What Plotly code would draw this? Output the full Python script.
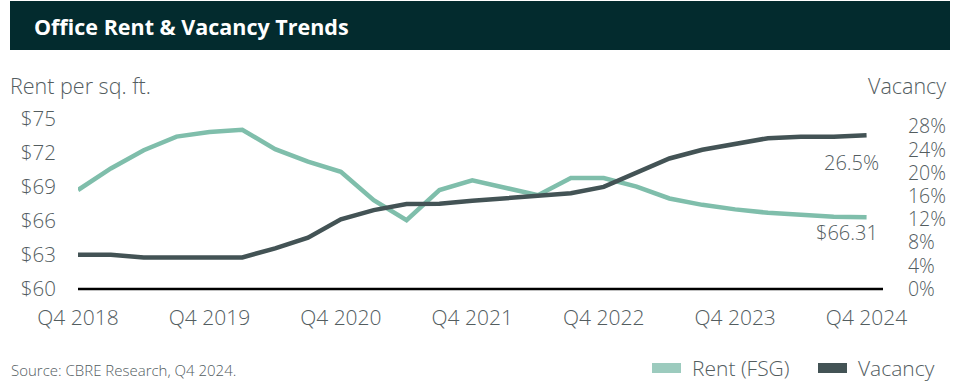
import plotly.graph_objects as go

# Quarterly series, Q4 2018 through Q4 2024
quarters = [
    "Q4 2018", "Q1 2019", "Q2 2019", "Q3 2019", "Q4 2019",
    "Q1 2020", "Q2 2020", "Q3 2020", "Q4 2020",
    "Q1 2021", "Q2 2021", "Q3 2021", "Q4 2021",
    "Q1 2022", "Q2 2022", "Q3 2022", "Q4 2022",
    "Q1 2023", "Q2 2023", "Q3 2023", "Q4 2023",
    "Q1 2024", "Q2 2024", "Q3 2024", "Q4 2024",
]
rent = [
    68.7, 70.6, 72.2, 73.4, 73.8,
    74.0, 72.3, 71.2, 70.3,
    67.8, 66.05, 68.7, 69.56,
    68.9, 68.25, 69.76, 69.76,
    69.0, 67.96, 67.4, 67.0,
    66.7, 66.5, 66.35, 66.31,
]
vacancy = [
    5.9, 5.9, 5.45, 5.45, 5.45,
    5.45, 7.0, 8.85, 12.0,
    13.6, 14.65, 14.7, 15.2,
    15.6, 16.1, 16.5, 17.6,
    19.95, 22.5, 24.0, 25.0,
    26.0, 26.26, 26.26, 26.5,
]
x_ticks = ["Q4 2018", "Q4 2019", "Q4 2020", "Q4 2021", "Q4 2022", "Q4 2023", "Q4 2024"]
rent_ticks = [60, 63, 66, 69, 72, 75]
vacancy_ticks = [0, 4, 8, 12, 16, 20, 24, 28]

RENT_COLOR = "#7FBEAB"
RENT_SWATCH = "#9CCBBE"
VAC_COLOR = "#435355"
TEXT_COLOR = "#535D5F"
BAR_COLOR = "#032B2E"
FONT = "Open Sans"
CLEAR = "rgba(0,0,0,0)"

fig = go.Figure()
fig.add_trace(go.Scatter(
    x=quarters, y=rent, mode="lines", name="Rent (FSG)",
    line=dict(color=RENT_COLOR, width=4.5), yaxis="y", showlegend=False,
))
fig.add_trace(go.Scatter(
    x=quarters, y=vacancy, mode="lines", name="Vacancy",
    line=dict(color=VAC_COLOR, width=4.5), yaxis="y2", showlegend=False,
))

def text_font(size):
    return dict(family=FONT, size=size, color=TEXT_COLOR, weight=300)

# Invisible tick marks push the tick labels away from the plot edges
fig.update_layout(
    width=976, height=384,
    margin=dict(l=78, r=93, t=115, b=95),
    paper_bgcolor="white", plot_bgcolor="white",
    font=dict(family=FONT, color=TEXT_COLOR),
    xaxis=dict(
        type="category", categoryorder="array", categoryarray=quarters,
        range=[0, 24.5], tickmode="array", tickvals=x_ticks, ticktext=x_ticks,
        showgrid=False, zeroline=False, ticks="outside", ticklen=10, tickcolor=CLEAR,
        tickfont=text_font(21), showline=False,
    ),
    yaxis=dict(
        range=[60, 75.3], tickmode="array", tickvals=rent_ticks,
        ticktext=["$%d" % v for v in rent_ticks],
        showgrid=False, zeroline=False, ticks="outside", ticklen=17, tickcolor=CLEAR,
        tickfont=text_font(20.5),
    ),
    yaxis2=dict(
        range=[0, 30], overlaying="y", side="right", tickmode="array",
        tickvals=vacancy_ticks, ticktext=["%d%%" % v for v in vacancy_ticks],
        showgrid=False, zeroline=False, ticks="outside", ticklen=20, tickcolor=CLEAR,
        tickfont=text_font(19.5),
    ),
)

# Baseline along the bottom of the plot area
fig.add_shape(type="line", xref="paper", yref="paper", x0=0, x1=1, y0=0, y1=0,
              line=dict(color="black", width=2.5), layer="below")

# Title bar
fig.add_shape(type="rect", xref="paper", yref="paper",
              x0=(10 - 78) / 805, x1=(950 - 78) / 805,
              y0=1 + (115 - 50) / 174, y1=1 + (115 - 1) / 174,
              line=dict(width=0), fillcolor=BAR_COLOR)
fig.add_annotation(text="<b>Office Rent & Vacancy Trends</b>", xref="paper", yref="paper",
                   x=(32 - 78) / 805, y=1 + (115 - 27) / 174, xanchor="left", yanchor="middle",
                   showarrow=False, font=dict(family=FONT, size=21.5, color="white"))

# Axis titles
fig.add_annotation(text="Rent per sq. ft.", xref="paper", yref="paper",
                   x=(8 - 78) / 805, y=1 + (115 - 86) / 174, xanchor="left", yanchor="middle",
                   showarrow=False, font=text_font(21.5))
fig.add_annotation(text="Vacancy", xref="paper", yref="paper",
                   x=(948 - 78) / 805, y=1 + (115 - 86) / 174, xanchor="right", yanchor="middle",
                   showarrow=False, font=text_font(21.5))

# End-of-series value labels
fig.add_annotation(text="%.1f%%" % vacancy[-1], x=quarters[-1], y=vacancy[-1], yref="y2",
                   xanchor="right", yanchor="middle", xshift=14, yshift=-27,
                   showarrow=False, font=text_font(20))
fig.add_annotation(text="$%.2f" % rent[-1], x=quarters[-1], y=rent[-1], yref="y",
                   xanchor="right", yanchor="middle", xshift=13, yshift=-15,
                   showarrow=False, font=text_font(20))

# Source note
fig.add_annotation(text="Source: CBRE Research, Q4 2024.", xref="paper", yref="paper",
                   x=(9 - 78) / 805, y=-(370 - 289) / 174, xanchor="left", yanchor="middle",
                   showarrow=False, font=text_font(15))

# Legend
def px_x(v):
    return (v - 78) / 805

def px_y(v):
    return (289 - v) / 174

legend_items = [("Rent (FSG)", RENT_SWATCH, 652, 690), ("Vacancy", VAC_COLOR, 818, 856)]
for label, color, sx, tx in legend_items:
    fig.add_shape(type="rect", xref="paper", yref="paper",
                  x0=px_x(sx), x1=px_x(sx + 29), y0=px_y(373), y1=px_y(363),
                  line=dict(width=0), fillcolor=color)
    fig.add_annotation(text=label, xref="paper", yref="paper", x=px_x(tx), y=px_y(368),
                       xanchor="left", yanchor="middle", showarrow=False, font=text_font(21))

fig.write_html("out.html")
